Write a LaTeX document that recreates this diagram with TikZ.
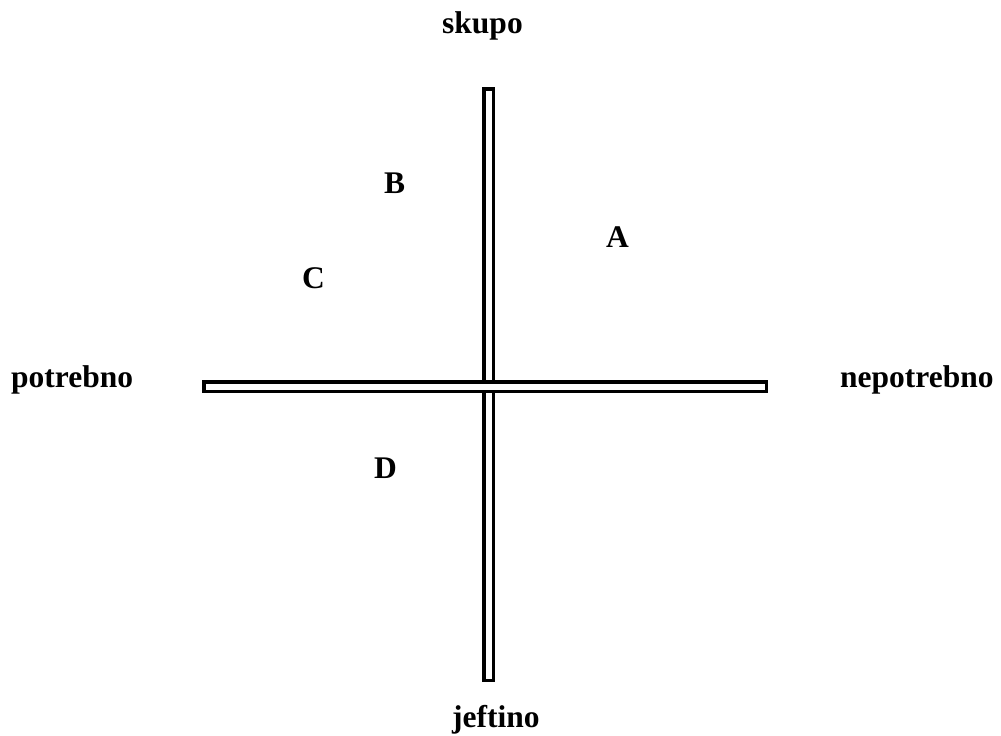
\documentclass[tikz,border=0pt]{standalone}
\usepackage{fontspec}
\setmainfont{Liberation Serif}
\usetikzlibrary{positioning}

\begin{document}
\begin{tikzpicture}[
    x=1pt, y=-1pt,
    every node/.style={font=\fontsize{31.5}{36}\selectfont\bfseries, inner sep=0pt},
    lbl/.style={anchor=base west},
    bar/.style={draw, fill=white, line width=3.5pt}
]
\useasboundingbox (0,0) rectangle (1001,736);

% the two axes
\draw[bar] (483.75,88.75) rectangle (493.25,680.25);
\draw[bar] (203.75,381.75) rectangle (766.25,391.25);

% axis ends
\node[lbl] (skupo) at (442,33) {skupo};
\node[lbl] (jeftino) at (452,727) {jeftino};
\node[lbl] (potr) at (11,387) {potrebno};
\node[lbl] (nepotr) at (840,387) {nepotrebno};

% points
\node[lbl] (A) at (606,247) {A};
\node[lbl] (B) at (384,193) {B};
\node[lbl] (C) at (302,288) {C};
\node[lbl] (D) at (374,478) {D};

\end{tikzpicture}
\end{document}
